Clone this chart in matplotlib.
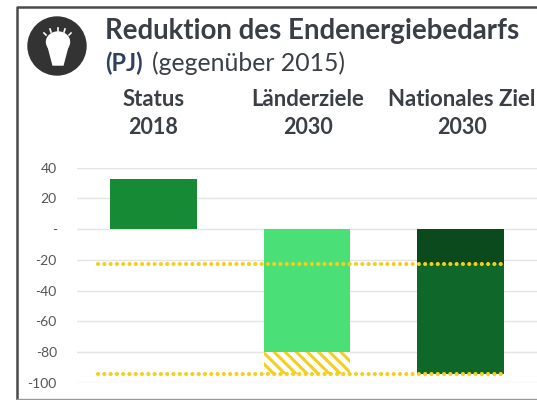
import matplotlib
matplotlib.use("Agg")
import matplotlib.pyplot as plt
from matplotlib.patches import Circle, Ellipse, Polygon

plt.rcParams['font.family'] = ['Lato', 'DejaVu Sans']
plt.rcParams['hatch.linewidth'] = 2.2

# Daten
columns = ["Status", "Länderziele", "Nationales Ziel"]
years = ["2018", "2030", "2030"]
values = [32.5, -80, -94]
bar_colors = ["#178a35", "#4be077", "#10672a"]
hatch_from = -80
hatch_to = -94
range_low = -94
range_high = -23
y_ticks = [40, 20, 0, -20, -40, -60, -80, -100]
y_labels = ["40", "20", "-", "-20", "-40", "-60", "-80", "-100"]

W, H = 537, 400
TXT = "#3a3f45"
GOLD = "#f3cf1f"

fig = plt.figure(figsize=(W / 100, H / 100), dpi=100)

# Hintergrund in Pixelkoordinaten (Rahmen und Icon)
bg = fig.add_axes([0, 0, 1, 1])
bg.set_xlim(0, W)
bg.set_ylim(H, 0)
bg.axis("off")
bg.plot([16.5, 16.5, W], [H, 7, 7], color="#4a4a4a", lw=1.8)
bg.plot([16.5, W], [398.5, 398.5], color="#9a9a9a", lw=1.0)

bg.add_patch(Circle((57, 46), 29, color="#333333"))
bg.add_patch(Ellipse((58, 42), 23, 20, color="white"))
bg.add_patch(Polygon([[48, 46], [68, 46], [63, 65], [53, 65]], color="white"))
for x0, y0, x1, y1 in [(44, 33, 46, 35), (50, 29, 51, 32), (58, 28, 58, 31), (65, 29, 64, 32), (71, 33, 69, 35)]:
    bg.plot([x0, x1], [y0, y1], color="white", lw=1.2)

bg.text(105, 31, "Reduktion des Endenergiebedarfs", fontsize=19.9, fontweight="bold",
        color=TXT, va="center", ha="left")
bg.text(105, 63, "(PJ)", fontsize=17, fontweight="bold", color="#2f3f5f", va="center", ha="left")
bg.text(152, 63, "(gegenüber 2015)", fontsize=17.8, color=TXT, va="center", ha="left")

# Diagramm
y_top_px, y_bot_px = 167.5, 383.0
ax = fig.add_axes([77 / W, 1 - y_bot_px / H, (W - 77) / W, (y_bot_px - y_top_px) / H])
ax.patch.set_alpha(0)
x = range(len(values))
ax.bar(x, values, width=0.566, color=bar_colors, zorder=2)
# oberer Teil des nationalen Balkens ist dunkler
ax.bar(2, range_high, width=0.566, color="#0a4a1c", zorder=2)
ax.bar(1, hatch_to - hatch_from, bottom=hatch_from, width=0.566, facecolor="white",
       edgecolor=GOLD, hatch="\\\\\\", lw=0, zorder=2)
for level in (range_high, range_low):
    ax.plot([-0.365, 2.28], [level, level], color=GOLD, lw=3, ls=(0, (0.01, 1.5)),
            dash_capstyle="round", zorder=3)

ax.set_xlim(-0.5, 2.5)
ax.set_ylim(-100, 40)
ax.set_yticks(y_ticks)
ax.set_yticklabels(y_labels, fontsize=10, color="#555555")
ax.set_xticks([])
ax.tick_params(axis="y", length=0, pad=14.5)
ax.grid(axis="y", color="#e4e4e4", lw=1.0, zorder=0)
for s in ax.spines.values():
    s.set_visible(False)

# Spaltenköpfe
col_px = [153.5, 307.5, 461.5]
for cx, name, yr in zip(col_px, columns, years):
    bg.text(cx, 99, name, fontsize=15.9, fontweight="bold", color=TXT, ha="center", va="center")
    bg.text(cx, 128, yr, fontsize=15.5, fontweight="bold", color=TXT, ha="center", va="center")

fig.savefig("out.png", dpi=100)
